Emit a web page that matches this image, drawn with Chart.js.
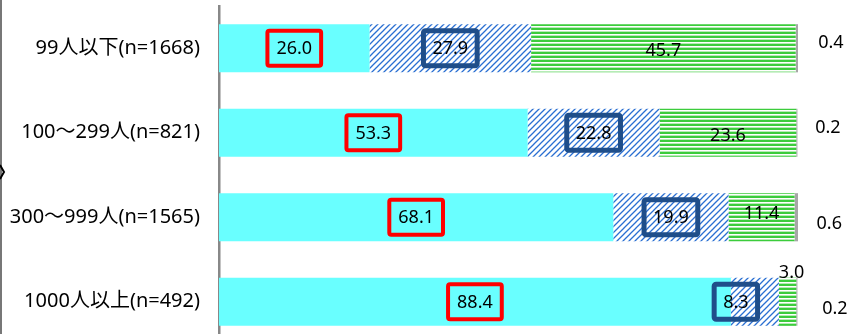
<!DOCTYPE html>
<html>
<head>
<meta charset="utf-8">
<script src="https://cdn.jsdelivr.net/npm/chart.js@4/dist/chart.umd.min.js"></script>
<style>
  html, body { margin: 0; padding: 0; width: 859px; height: 334px; overflow: hidden; background: #fff; }
  #wrap { width: 859px; height: 344px; position: relative; }
</style>
</head>
<body>
<div id="wrap"><canvas id="bars"></canvas></div>
<script>
/* =================================================================
    Data
================================================================= */

var categories = ["99人以下(n=1668)", "100～299人(n=821)", "300～999人(n=1565)", "1000人以上(n=492)"];

var seriesA = [26.0, 53.3, 68.1, 88.4];
var seriesB = [27.9, 22.8, 19.9, 8.3];
var seriesC = [45.7, 23.6, 11.4, 3.0];
var seriesD = [0.4, 0.2, 0.6, 0.2];

/* =================================================================
    Fill patterns
================================================================= */

function hatchPattern() {
    var c = document.createElement("canvas");
    c.width = 6; c.height = 6;
    var g = c.getContext("2d");
    g.fillStyle = "#ffffff";
    g.fillRect(0, 0, 6, 6);
    g.strokeStyle = "#2a6fd2";
    g.lineWidth = 1.3;
    g.beginPath();
    g.moveTo(-1, 7); g.lineTo(7, -1);
    g.moveTo(-4, 4); g.lineTo(4, -4);
    g.moveTo(2, 10); g.lineTo(10, 2);
    g.stroke();
    return g.createPattern(c, "repeat");
}

function stripePattern() {
    var c = document.createElement("canvas");
    c.width = 4; c.height = 4;
    var g = c.getContext("2d");
    g.fillStyle = "#ffffff";
    g.fillRect(0, 0, 4, 4);
    g.fillStyle = "#3ccc3c";
    g.fillRect(0, 0, 4, 2);
    g.fillStyle = "#b6ebb6";
    g.fillRect(0, 3, 4, 1);
    return g.createPattern(c, "repeat");
}

/* =================================================================
    Value labels
================================================================= */

// shift of each label from the middle of its segment: [dataset][bar] = [dx, dy]
var labelShift = [
    [[0, 0], [0, 0], [0, 0], [0, 0]],
    [[0, 0], [0, 0], [0, 0], [-19, 0]],
    [[0, 2], [0, 2], [0, -4], [4, -30]],
    [[34, -6], [31, -6], [33, 6], [38, 6]]
];
var boxColors = ["#ff0000", "#1f4e8a", null, null];
var boxWidths = [4, 5, 0, 0];

var valueLabels = {
    id: "valueLabels",
    afterDatasetsDraw: function (chart) {
        var ctx = chart.ctx;
        ctx.save();
        ctx.font = "18px 'Noto Sans'";
        ctx.textAlign = "center";
        ctx.textBaseline = "middle";
        chart.data.datasets.forEach(function (ds, i) {
            var meta = chart.getDatasetMeta(i);
            meta.data.forEach(function (bar, j) {
                var txt = ds.data[j].toFixed(1);
                var x = (bar.x + bar.base) / 2 + labelShift[i][j][0];
                var y = bar.y + labelShift[i][j][1];
                if (boxColors[i]) {
                    var w = ctx.measureText(txt).width + 18;
                    ctx.strokeStyle = boxColors[i];
                    ctx.lineWidth = boxWidths[i];
                    ctx.beginPath();
                    ctx.roundRect(x - w / 2, y - 17.5, w, 35, 2);
                    ctx.stroke();
                }
                ctx.fillStyle = "#000";
                ctx.fillText(txt, x, y + 1);
            });
        });
        ctx.restore();
    }
};

// thin frame line on the far left edge
var edgeMark = {
    id: "edgeMark",
    beforeDraw: function (chart) {
        var ctx = chart.ctx;
        ctx.save();
        ctx.strokeStyle = "#777";
        ctx.lineWidth = 2;
        ctx.beginPath();
        ctx.moveTo(1, 0); ctx.lineTo(1, chart.height);
        ctx.stroke();
        ctx.strokeStyle = "#000";
        ctx.lineWidth = 2;
        ctx.beginPath();
        ctx.moveTo(0, 165); ctx.lineTo(4, 172); ctx.lineTo(0, 179);
        ctx.stroke();
        ctx.restore();
    }
};

/* =================================================================
    Stacked bar chart
================================================================= */

var ctx = document.getElementById("bars");

var data = {
    labels: categories,
    datasets: [
        { data: seriesA, backgroundColor: "#69ffff" },
        { data: seriesB, backgroundColor: hatchPattern() },
        { data: seriesC, backgroundColor: stripePattern() },
        { data: seriesD, backgroundColor: "#a6a6a6" }
    ]
};

var myChart = new Chart(ctx, {
    type: "bar",
    data: data,
    plugins: [valueLabels, edgeMark],
    options: {
        indexAxis: "y",
        responsive: true,
        maintainAspectRatio: false,
        animation: false,
        layout: { padding: { top: 6, right: 61, bottom: 0, left: 0 } },
        datasets: { bar: { categoryPercentage: 1, barPercentage: 0.57, borderWidth: 0 } },
        plugins: { legend: { display: false }, tooltip: { enabled: false } },
        scales: {
            x: { stacked: true, min: 0, max: 100, display: false },
            y: {
                stacked: true,
                grid: { display: false },
                border: { display: true, color: "#888", width: 2.5 },
                ticks: { color: "#000", padding: 11, font: { family: "'Noto Sans', 'Noto Sans CJK JP'", size: 20 } },
                afterFit: function (scale) {
                    scale.width = 219;
                    scale.paddingTop = 0;
                    scale.paddingBottom = 0;
                }
            }
        }
    }
});
</script>
</body>
</html>
